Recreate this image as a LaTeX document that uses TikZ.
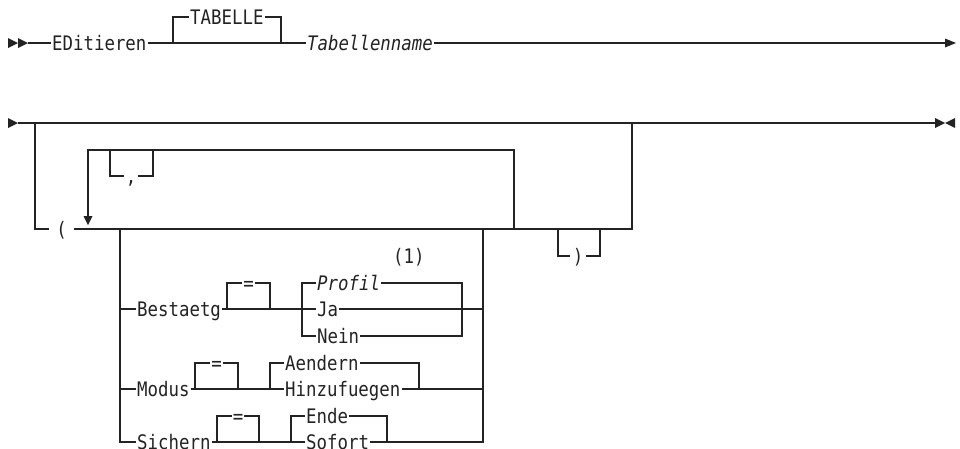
\documentclass[tikz,border=0pt]{standalone}
\usepackage{fontspec}
\newfontfamily\rrfont[FakeStretch=0.87]{DejaVu Sans Mono}
\definecolor{ink}{RGB}{35,35,35}
\begin{document}
\begin{tikzpicture}[x=1pt,y=-1pt,line width=1.3pt,draw=ink,
  lbl/.style={inner xsep=0.5pt,inner ysep=0pt,text height=14.6pt,text depth=0pt,anchor=west,
    font=\rrfont\fontsize{20pt}{21pt}\selectfont,text=ink},
  tipfill/.style={fill=ink,draw=none}]
\useasboundingbox (0,0) rectangle (960,448);
% ---------- row 1 ----------
\coordinate (s1) at (28,43);
\coordinate (e1) at (945,43);
\coordinate (b1) at (173,43);
\coordinate (b2) at (281,43);
\node[lbl] (edit) at (51,43) {EDitieren};
\node[lbl] (tab) at (189,17) {TABELLE};
\node[lbl] (tname) at (306,43) {\itshape Tabellenname};
\fill[tipfill] (8,38) -- (18,43) -- (8,48) -- cycle;
\fill[tipfill] (18,38) -- (28,43) -- (18,48) -- cycle;
\fill[tipfill] (945,38.5) -- (956,43) -- (945,47.5) -- cycle;
\draw (s1) -- (edit.west);
\draw (edit.east) -- (tname.west);
\draw (b1) |- (tab.west);
\draw (tab.east) -| (b2);
\draw (tname.east) -- (e1);
% ---------- row 2 ----------
\coordinate (s2) at (18,123);
\coordinate (e2) at (935,123);
\coordinate (d1) at (35,123);
\coordinate (u1) at (632,123);
\coordinate (u1b) at (632,229);
\fill[tipfill] (8,118) -- (18,123) -- (8,128) -- cycle;
\fill[tipfill] (935,118) -- (945,123) -- (935,128) -- cycle;
\fill[tipfill] (955,118) -- (945,123) -- (955,128) -- cycle;
\draw (s2) -- (e2);
\node[lbl,anchor=center,minimum width=23pt] (lp) at (61.5,229) {(};
\draw (d1) |- (lp.west);
\draw (lp.east) -- (u1b) -- (u1);
% repeat loop
\coordinate (r0) at (88,216);
\coordinate (r1) at (514,229);
\draw (r0) -- (88,150) -| (r1);
\fill[tipfill] (83.5,216) -- (92.5,216) -- (88,225) -- cycle;
\node[lbl,anchor=center,minimum width=12pt] (comma) at (131,176) {,};
\draw (110,150) |- (comma.west);
\draw (comma.east) -| (153,150);
% closing paren
\node[lbl,anchor=center,minimum width=15pt] (rp) at (578,256) {)};
\draw (558,229) |- (rp.west);
\draw (rp.east) -| (600,229);
% ---------- choices ----------
\coordinate (cl) at (120,229);
\coordinate (cr) at (483,229);
\node[lbl] (best) at (136,309) {Bestaetg};
\node[lbl,anchor=center] (eq1) at (248.5,283) {=};
\node[lbl] (prof) at (316,283) {\itshape Profil};
\node[lbl] (ja) at (316,309) {Ja};
\node[lbl] (nein) at (316,336) {Nein};
\node[lbl] (note) at (392,256) {(1)};
\node[lbl] (modus) at (136,389) {Modus};
\node[lbl,anchor=center] (eq2) at (216.5,363) {=};
\node[lbl] (aend) at (284,363) {Aendern};
\node[lbl] (hinz) at (284,389) {Hinzufuegen};
\node[lbl] (sich) at (136,442) {Sichern};
\node[lbl,anchor=center] (eq3) at (238,416) {=};
\node[lbl] (ende) at (305,416) {Ende};
\node[lbl] (sof) at (305,442) {Sofort};
\draw (cl) |- (sich.west);
\draw (120,309) -- (best.west);
\draw (120,389) -- (modus.west);
% Bestaetg
\draw (best.east) -- (ja.west);
\draw (227,309) |- (eq1.west);
\draw (eq1.east) -| (270,309);
\draw (302,309) |- (prof.west);
\draw (prof.east) -| (462,309);
\draw (302,309) |- (nein.west);
\draw (nein.east) -| (462,309);
\draw (ja.east) -- (483,309);
% Modus
\draw (modus.east) -- (hinz.west);
\draw (195,389) |- (eq2.west);
\draw (eq2.east) -| (238,389);
\draw (270,389) |- (aend.west);
\draw (aend.east) -| (419,389);
\draw (hinz.east) -- (483,389);
% Sichern
\draw (sich.east) -- (sof.west);
\draw (217,442) |- (eq3.west);
\draw (eq3.east) -| (259,442);
\draw (291,442) |- (ende.west);
\draw (ende.east) -| (387,442);
\draw (sof.east) -| (cr);
\end{tikzpicture}
\end{document}
